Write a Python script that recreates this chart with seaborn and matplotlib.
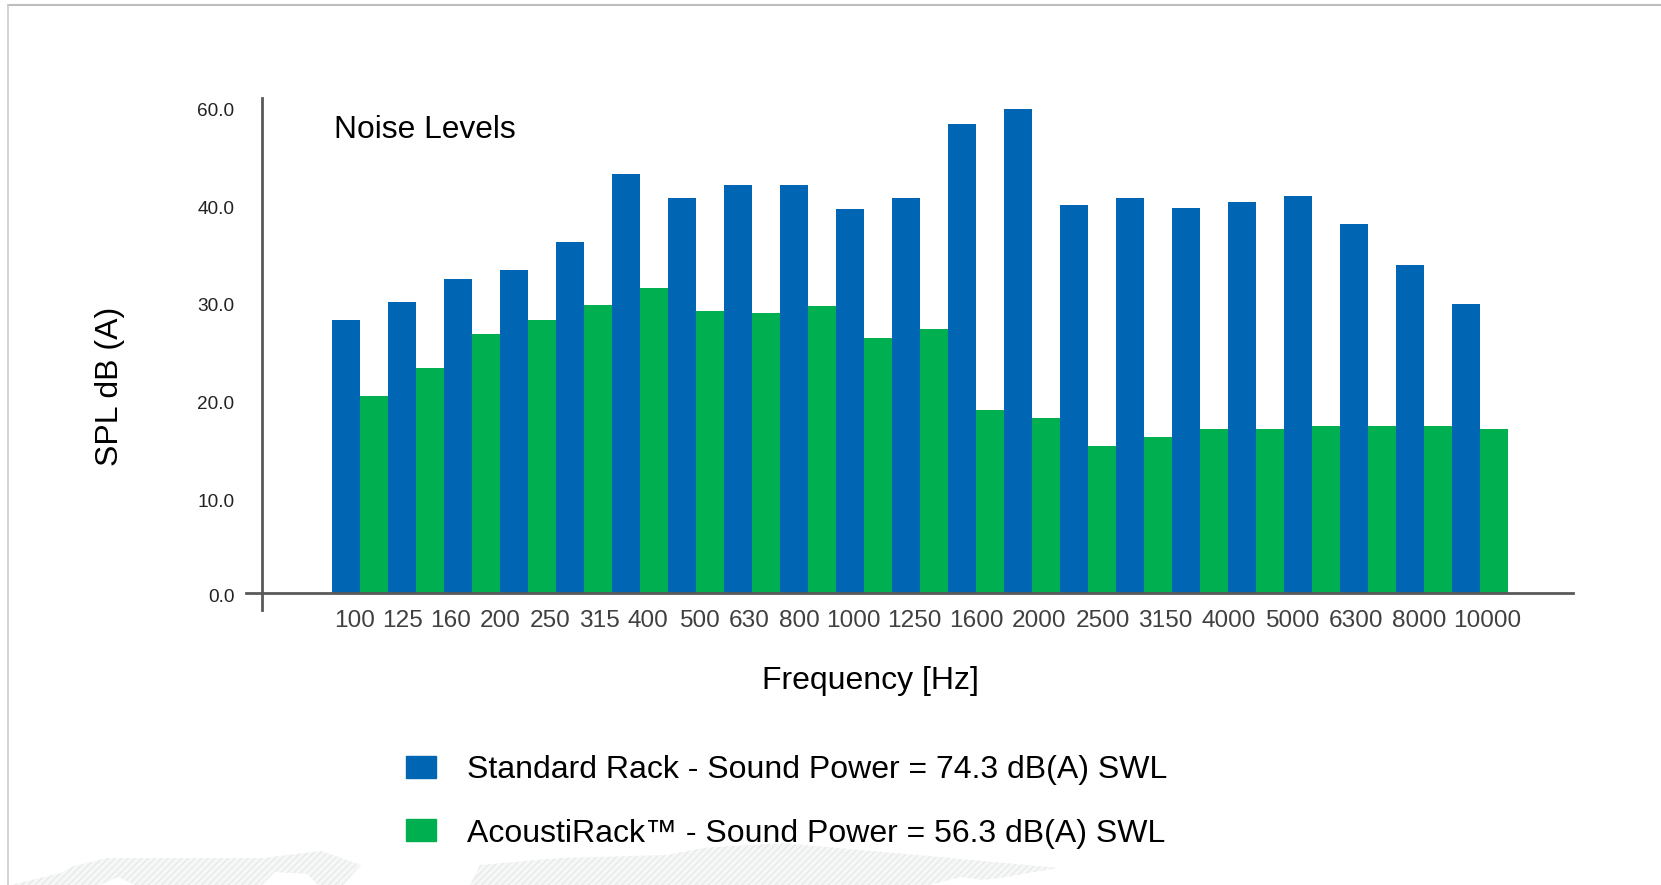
import matplotlib
matplotlib.use('Agg')
import matplotlib.pyplot as plt
import matplotlib.lines as mlines
import matplotlib.patches as mpatches
import matplotlib.transforms as mtrans
import numpy as np
import pandas as pd
import seaborn as sns

W, H = 1661, 885

freqs = ['100', '125', '160', '200', '250', '315', '400', '500', '630', '800', '1000',
         '1250', '1600', '2000', '2500', '3150', '4000', '5000', '6300', '8000', '10000']
# values (note it jumps 40 -> 60 in one step)
standard = [28.2, 30.1, 32.4, 33.4, 36.3, 46.6, 41.6, 44.3, 44.3, 39.7, 41.6,
            56.9, 60.0, 40.2, 41.6, 39.8, 40.8, 42.1, 38.1, 33.9, 29.9]
acousti = [20.4, 23.2, 26.8, 28.2, 29.8, 31.5, 29.1, 28.9, 29.6, 26.3, 27.3,
           18.9, 18.1, 15.2, 16.1, 16.9, 16.9, 17.3, 17.3, 17.3, 16.9]
y_ticks = [0, 10, 20, 30, 40, 60]
y_tick_labels = ['0.0', '10.0', '20.0', '30.0', '40.0', '60.0']
name_std = 'Standard Rack - Sound Power = 74.3 dB(A) SWL'
name_aco = 'AcoustiRack™ - Sound Power = 56.3 dB(A) SWL'

BLUE = '#0066b3'
GREEN = '#00b050'
AXIS = '#595959'

sns.set_theme(style='white')
plt.rcParams['font.family'] = ['Liberation Sans', 'DejaVu Sans']
plt.rcParams['hatch.linewidth'] = 0.9


def fx(px):
    return px / W


def fy(py):
    return 1 - py / H


df = pd.DataFrame({
    'freq': freqs * 2,
    'spl': standard + acousti,
    'rack': [name_std] * len(freqs) + [name_aco] * len(freqs),
})

fig = plt.figure(figsize=(W / 100, H / 100), dpi=100, facecolor='white')

# faint world map behind the bottom edge
left_land = [(11, 885), (61, 873), (71, 867), (107, 858), (264, 858), (321, 851), (361, 865), (343, 885)]
mid_land = [(470, 885), (480, 865), (560, 858), (667, 855), (703, 848), (781, 843), (917, 855), (1058, 868),
            (1000, 878), (935, 885)]
for land in (left_land, mid_land):
    fig.add_artist(mpatches.Polygon([(fx(a), fy(b)) for a, b in land], closed=True,
                                    transform=fig.transFigure, facecolor='#f6f7f7',
                                    edgecolor='#e6e8ea', hatch='/////', lw=0))
holes = [[(100, 885), (118, 877), (135, 885)], [(262, 885), (275, 872), (307, 874), (318, 885)],
         [(930, 885), (960, 877), (1024, 885)]]
for hole in holes:
    fig.add_artist(mpatches.Polygon([(fx(a), fy(b)) for a, b in hole], closed=True,
                                    transform=fig.transFigure, facecolor='white', lw=0))

# page frame
fig.add_artist(mlines.Line2D([fx(8), 1], [fy(5), fy(5)], color='#bdbdbd', lw=1.5))
fig.add_artist(mlines.Line2D([fx(8), fx(8)], [fy(5), 0], color='#cccccc', lw=1.2))

ax_l, ax_r, ax_t, ax_b = 246, 1573, 98, 610
ax = fig.add_axes([fx(ax_l), fy(ax_b), fx(ax_r - ax_l), (ax_b - ax_t) / H])
ax.patch.set_alpha(0)

sns.barplot(data=df, x='freq', y='spl', hue='rack', order=freqs, hue_order=[name_std, name_aco],
            palette=[BLUE, GREEN], width=1, gap=0, saturation=1, linewidth=0, ax=ax)


# the printed axis squeezes 40-60 into one step
def squeeze(v):
    v = np.asarray(v, dtype=float)
    return np.where(v <= 40, v, 40 + (v - 40) / 2)


def unsqueeze(p):
    p = np.asarray(p, dtype=float)
    return np.where(p <= 40, p, 40 + (p - 40) * 2)


ax.set_yscale('function', functions=(squeeze, unsqueeze))
px_per_unit = 9.68
ax.set_ylim(-(ax_b - 593) / px_per_unit, unsqueeze((593 - ax_t) / px_per_unit))

bar_left, group_w = 332, 56.0
ax.set_xlim((ax_l - bar_left) / group_w - 0.5, (ax_r - bar_left) / group_w - 0.5)

for side in ('top', 'right'):
    ax.spines[side].set_visible(False)
ax.spines['left'].set_position(('axes', (262.3 - ax_l) / (ax_r - ax_l)))
ax.spines['bottom'].set_position(('data', 0))
for side in ('left', 'bottom'):
    ax.spines[side].set_color(AXIS)
    ax.spines[side].set_linewidth(2.0)
    ax.spines[side].set_visible(True)

# labels are not centred on the groups in the original
label_px = [355, 403, 451, 500, 550, 599, 648, 699, 749, 799, 853,
            914, 976, 1039, 1103, 1165, 1229, 1292, 1356, 1419, 1487]
ax.set_xticks([(p - bar_left) / group_w - 0.5 for p in label_px])
ax.set_xticklabels(freqs)
ax.tick_params(axis='x', length=0, pad=12.5, labelsize=17.6, labelcolor='#404040')

ax.set_yticks(y_ticks)
ax.set_yticklabels(y_tick_labels)
ax.tick_params(axis='y', length=0, pad=20, labelsize=13.7, labelcolor='#222222')
ax.minorticks_off()
# hand placed in the original, not quite on the even steps (do this after set_position, it resets ticks)
label_shift_px = [2, 4.5, 3.5, 2, 2, 0]
for lab, dy in zip(ax.get_yticklabels(), label_shift_px):
    lab.set_transform(lab.get_transform() + mtrans.Affine2D().translate(0, -dy))

ax.set_xlabel('Frequency [Hz]', fontsize=23, color='black', va='center')
ax.xaxis.set_label_coords((870 - ax_l) / (ax_r - ax_l), (ax_b - 681) / (ax_b - ax_t))
ax.set_ylabel('SPL dB (A)', fontsize=23, color='black', va='center')
ax.yaxis.set_label_coords((110 - ax_l) / (ax_r - ax_l), (ax_b - 386.6) / (ax_b - ax_t))

fig.text(fx(334), fy(130), 'Noise Levels', fontsize=22.9, color='black', va='center')

handles = [mpatches.Patch(color=BLUE, label=name_std), mpatches.Patch(color=GREEN, label=name_aco)]
ax.legend(handles=handles, loc='upper left', bbox_to_anchor=(fx(405.7), fy(755)),
          bbox_transform=fig.transFigure, frameon=False, fontsize=23, borderpad=0, borderaxespad=0,
          handlelength=0.96, handleheight=0.69, handletextpad=0.96, labelspacing=1.05,
          labelcolor='black')

fig.savefig('out.png', dpi=100)
